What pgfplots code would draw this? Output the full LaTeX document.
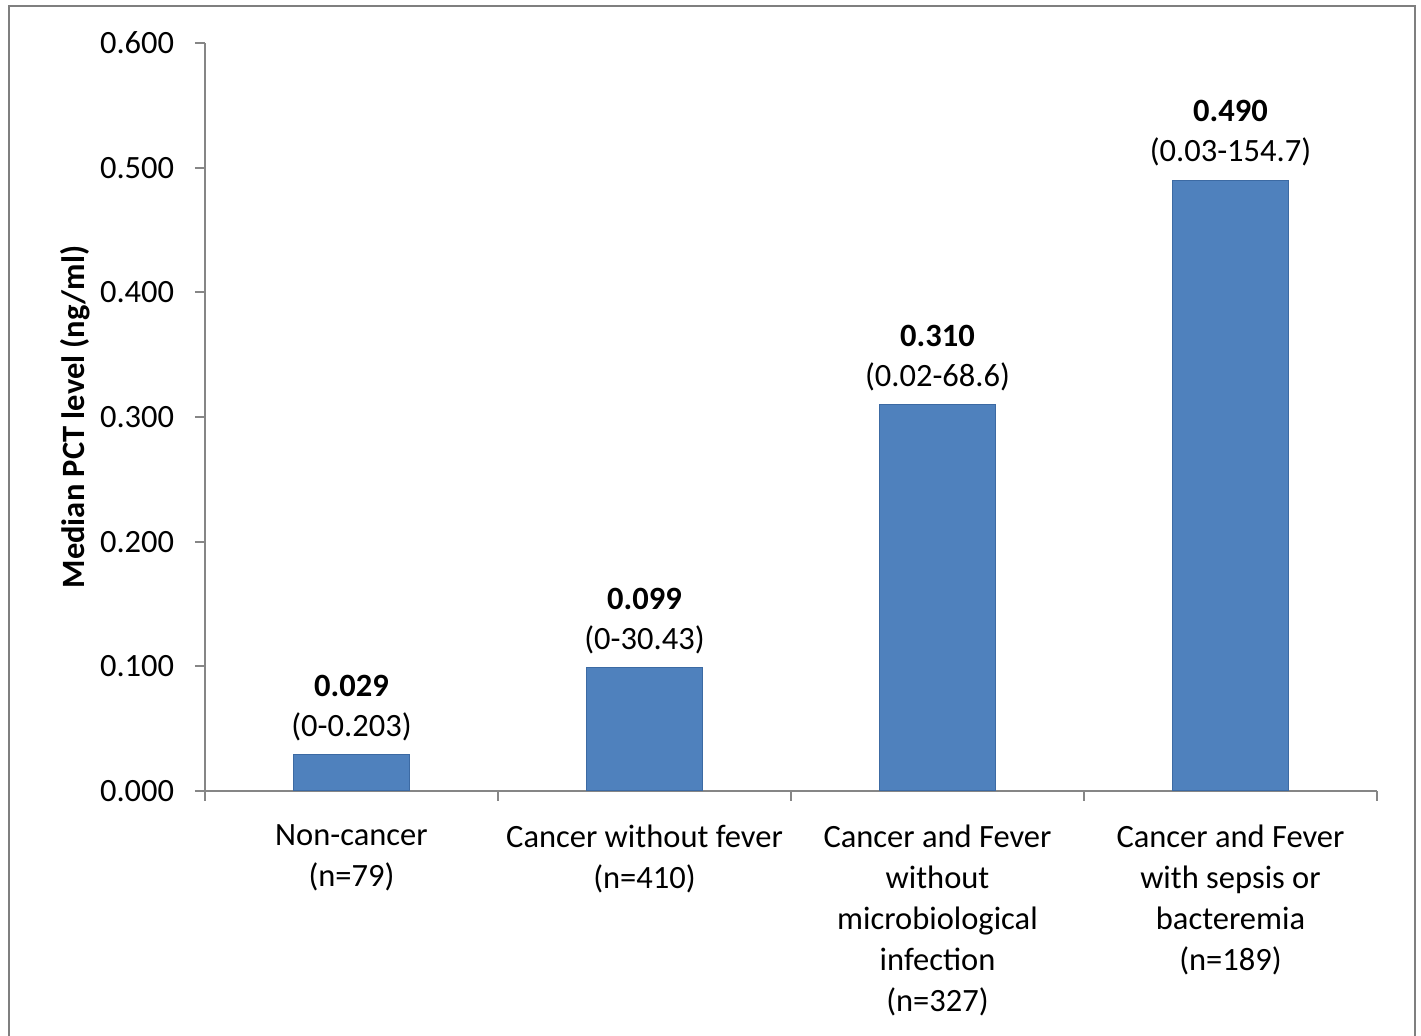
\documentclass[border=0pt]{standalone}
\usepackage{fontspec}
\setmainfont{Carlito}
\usepackage{pgfplots}
\pgfplotsset{compat=1.18}
\definecolor{barblue}{HTML}{4F81BD}
\definecolor{baredge}{HTML}{3C6AA3}
\definecolor{axisgray}{HTML}{868686}
\definecolor{framegray}{HTML}{7F7F7F}
\begin{document}
\begin{tikzpicture}
\useasboundingbox (0,0) rectangle (568.4pt,414.4pt);
% outer chart frame (open at the bottom)
\draw[framegray, line width=0.8pt] (3.6pt,0) -- (3.6pt,412pt) -- (566pt,412pt) -- (566pt,0);
\begin{axis}[
  at={(82pt,98pt)}, anchor=south west,
  scale only axis, width=468.8pt, height=299.2pt,
  xmin=-0.5, xmax=3.5, ymin=0, ymax=0.6,
  axis x line*=bottom, axis y line*=left,
  axis line style={axisgray, line width=0.7pt, -},
  tick align=outside,
  major tick length=4pt, minor tick length=4pt,
  tick style={axisgray, line width=0.7pt},
  ytick distance=0.1,
  xtick={0,1,2,3},
  major x tick style={draw=none},
  minor xtick={-0.5,0.5,1.5,2.5,3.5},
  xticklabels={
    {Non-cancer\\(n=79)},
    {Cancer without fever\\(n=410)},
    {Cancer and Fever\\without\\microbiological\\infection\\(n=327)},
    {Cancer and Fever\\with sepsis or\\bacteremia\\(n=189)}},
  xticklabel style={align=center, font=\fontsize{13}{16.4}\selectfont, yshift=-6pt},
  /pgf/number format/assume math mode=true,
  yticklabel style={font=\fontsize{13}{15}\selectfont, xshift=-4.8pt,
    /pgf/number format/.cd, fixed, fixed zerofill, precision=3},
  ylabel={\textbf{Median PCT level (ng/ml)}},
  ylabel style={font=\fontsize{13}{15}\selectfont,
    at={(axis description cs:-0.111,0.5)}, anchor=center},
  ybar, bar width=46.4pt,
  point meta=explicit symbolic,
  visualization depends on={rawy \as \barval},
  nodes near coords={\textbf{\pgfmathprintnumber[fixed,fixed zerofill,precision=3]{\barval}}\\(\pgfplotspointmeta)},
  every node near coord/.append style={align=center, anchor=south,
    font=\fontsize{13}{16}\selectfont, text=black, yshift=2pt},
]
\addplot[fill=barblue, draw=baredge, line width=0.5pt] coordinates {
  (0,0.029) [0-0.203]
  (1,0.099) [0-30.43]
  (2,0.310) [0.02-68.6]
  (3,0.490) [0.03-154.7]
};
\end{axis}
\end{tikzpicture}
\end{document}
